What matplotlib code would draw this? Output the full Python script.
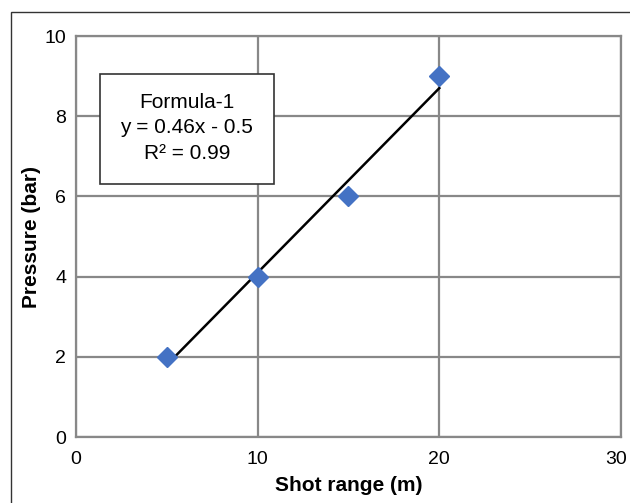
import matplotlib.pyplot as plt
import matplotlib.transforms as mtransforms
from matplotlib.patches import Rectangle
import numpy as np

# Data
shot_range = [5, 10, 15, 20]
pressure = [2, 4, 6, 9]
slope = 0.46
intercept = -0.5
x_ticks = [0, 10, 20, 30]
y_ticks = [0, 2, 4, 6, 8, 10]

plt.rcParams['font.family'] = ['Liberation Sans', 'DejaVu Sans']

fig = plt.figure(figsize=(6.3, 5.03), dpi=100)
ax = fig.add_axes([0.1206, 0.1312, 0.8651, 0.7972])

# Outer chart border
fig.patches.append(Rectangle((11 / 630, -0.05), 1.0, 1 - 12 / 503 + 0.05,
                             transform=fig.transFigure, fill=False,
                             edgecolor='#333333', linewidth=1.0))

grid_col = '#888888'
ax.set_xlim(0, 30)
ax.set_ylim(0, 10)
ax.set_xticks(x_ticks)
ax.set_yticks(y_ticks)
ax.grid(True, color=grid_col, linewidth=1.6)
ax.set_axisbelow(True)
for s in ax.spines.values():
    s.set_color(grid_col)
    s.set_linewidth(1.6)
ax.tick_params(length=0, labelsize=14)
ax.tick_params(axis='x', pad=10)
ax.tick_params(axis='y', pad=7)

# Nudge the last x label left so it stays inside the figure
last = ax.get_xticklabels()[-1]
last.set_transform(last.get_transform() +
                   mtransforms.ScaledTranslation(-5 / 100, 0, fig.dpi_scale_trans))

# Trend line across the data range
xs = np.array([min(shot_range), max(shot_range)])
ax.plot(xs, slope * xs + intercept, color='black', linewidth=1.8, zorder=3)
ax.plot(shot_range, pressure, linestyle='none', marker='D', markersize=10,
        color='#4472C4', zorder=4)

ax.set_xlabel('Shot range (m)', fontsize=15, fontweight='bold')
ax.set_ylabel('Pressure (bar)', fontsize=15, fontweight='bold')
ax.xaxis.set_label_coords(0.5, -0.097)
ax.yaxis.set_label_coords(-0.064, 0.5)

# Trendline equation box
ax.add_patch(Rectangle((0.044, 0.631), 0.319, 0.274, transform=ax.transAxes,
                       facecolor='white', edgecolor='#333333',
                       linewidth=1.2, zorder=5))
ax.text(0.2035, 0.771, 'Formula-1\ny = 0.46x - 0.5\nR² = 0.99',
        transform=ax.transAxes, ha='center', va='center', fontsize=15,
        linespacing=1.45, zorder=6)

fig.savefig('out.png', dpi=100)
